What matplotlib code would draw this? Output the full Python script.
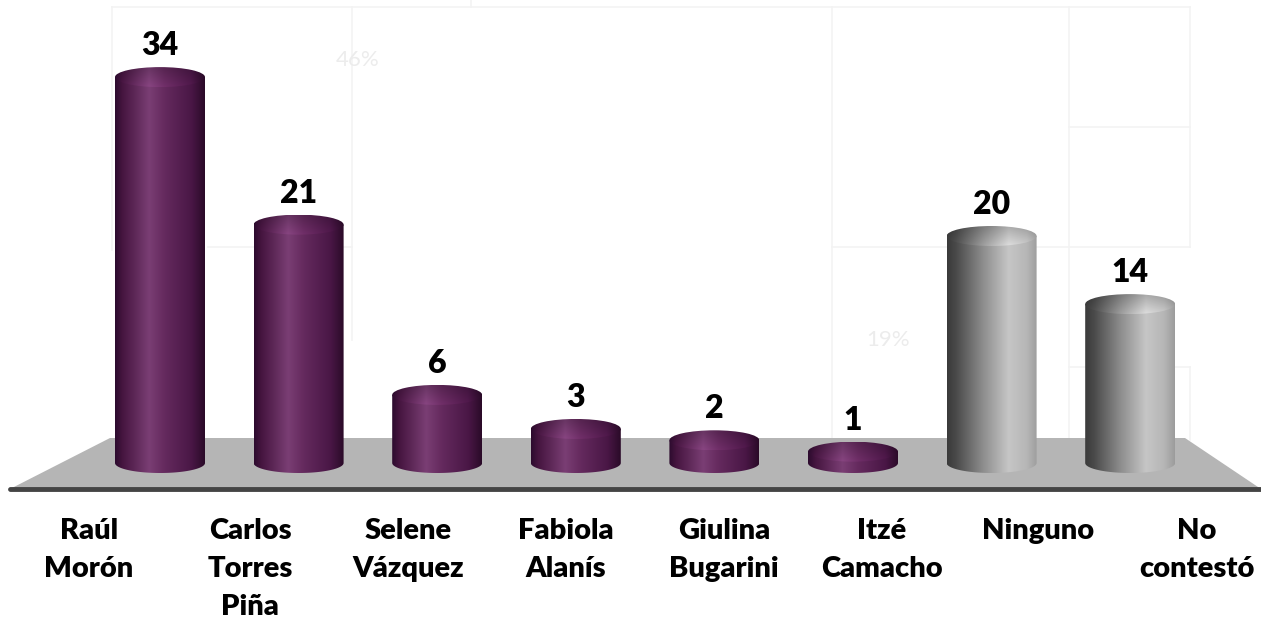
import numpy as np
import matplotlib
matplotlib.use("Agg")
import matplotlib.pyplot as plt
from matplotlib.colors import LinearSegmentedColormap
from matplotlib.patches import Polygon, Ellipse

# Chart data
categories = ["Raúl\nMorón", "Carlos\nTorres\nPiña", "Selene\nVázquez",
              "Fabiola\nAlanís", "Giulina\nBugarini", "Itzé\nCamacho",
              "Ninguno", "No\ncontestó"]
values = [34, 21, 6, 3, 2, 1, 20, 14]
groups = ["cand", "cand", "cand", "cand", "cand", "cand", "other", "other"]

# Layout (pixel plan -> data units)
W, H = 1261, 622
X0, DX = 160.0, 138.6      # pixel x of first bar and spacing
Y0, S = 463.0, 11.35       # pixel y of bar base and pixels per unit


def px(xp, yp):
    return (xp - X0) / DX, (Y0 - yp) / S


plt.rcParams["font.family"] = ["Lato", "DejaVu Sans"]

fig = plt.figure(figsize=(W / 100, H / 100), dpi=100)
ax = fig.add_axes([0, 0, 1, 1])
ax.set_axis_off()

# faint background watermark lines
bg = "#f3f3f3"
bg_lines = [
    [(112, 7), (1190, 7)],
    [(352, 7), (352, 340)],
    [(112, 7), (112, 250)],
    [(208, 247), (352, 247)],
    [(471, 0), (471, 7)],
    [(832, 7), (832, 440)],
    [(1069, 7), (1069, 440)],
    [(1190, 7), (1190, 247)],
    [(832, 247), (1190, 247)],
    [(1069, 127), (1190, 127)],
    [(1069, 367), (1190, 367)],
    [(1190, 367), (1190, 440)],
]
for (a, b) in bg_lines:
    (xa, ya), (xb, yb) = px(*a), px(*b)
    ax.plot([xa, xb], [ya, yb], color=bg, lw=1.2, zorder=0)
ax.text(*px(358, 60), "46%", color="#ececec", fontsize=16, ha="center",
        va="center", zorder=0)
ax.text(*px(888, 340), "19%", color="#ececec", fontsize=16, ha="center",
        va="center", zorder=0)

# floor
floor = Polygon([px(10, 489), px(110, 438), px(1185, 438), px(1261, 489)],
                closed=True, fc="#b5b5b5", ec="none", zorder=1)
ax.add_patch(floor)
xa, ya = px(10, 489)
xb, yb = px(1261, 489)
ax.plot([xa, xb], [ya, yb], color="#444444", lw=3.5, solid_capstyle="round",
        zorder=2)

cmaps = {
    "cand": LinearSegmentedColormap.from_list("purple", [
        (0.0, "#2c0b2e"), (0.08, "#45153f"), (0.38, "#7a3e74"),
        (0.55, "#652a5e"), (0.85, "#4a1746"), (1.0, "#2a0a28")]),
    "other": LinearSegmentedColormap.from_list("grey", [
        (0.0, "#3a3a3a"), (0.1, "#4a4a4a"), (0.4, "#8e8e8e"),
        (0.68, "#c6c6c6"), (0.88, "#b6b6b6"), (1.0, "#9c9c9c")]),
}

hw = 45 / DX
ry = 10 / S
grad = np.linspace(0, 1, 256)[None, :]

for i, (v, g) in enumerate(zip(values, groups)):
    cmap = cmaps[g]
    t = np.linspace(np.pi, 2 * np.pi, 80)
    verts = list(zip(i + hw * np.cos(t), ry * np.sin(t)))
    verts += [(i + hw, v), (i - hw, v)]
    body = Polygon(verts, closed=True, fc="none", ec="none")
    ax.add_patch(body)
    im = ax.imshow(grad, cmap=cmap, extent=(i - hw, i + hw, -ry, v),
                   aspect="auto", interpolation="bilinear", zorder=3 + i * 0.01)
    im.set_clip_path(body)

    # top cap: same gradient, darker at the back, lighter near the front
    cols = cmap(np.linspace(0, 1, 256))[:, :3]
    fac = np.linspace(0.85, 1.12, 64)[:, None, None]
    cap_img = np.clip(cols[None, :, :] * fac, 0, 1)
    cap = Ellipse((i, v), 2 * hw, 2 * ry, fc="none", ec="none")
    ax.add_patch(cap)
    im2 = ax.imshow(cap_img, extent=(i - hw, i + hw, v - ry, v + ry),
                    aspect="auto", interpolation="bilinear",
                    zorder=3.05 + i * 0.01)
    im2.set_clip_path(cap)

    ax.text(i, v + ry + 12 / S, str(v), ha="center", va="baseline",
            fontsize=23, fontweight="heavy", color="black", zorder=6)

# category labels, one line at a time
label_px = [89, 250, 408, 566, 724, 882, 1038, 1197]
for xp, lab in zip(label_px, categories):
    for k, line in enumerate(lab.split("\n")):
        xd, yd = px(xp, 539 + 38 * k)
        ax.text(xd, yd, line, ha="center", va="baseline", fontsize=21,
                fontweight="heavy", color="black", zorder=6)

ax.set_xlim(px(0, 0)[0], px(W, 0)[0])
ax.set_ylim(px(0, H)[1], px(0, 0)[1])

fig.savefig("out.png", dpi=100, facecolor="white")
